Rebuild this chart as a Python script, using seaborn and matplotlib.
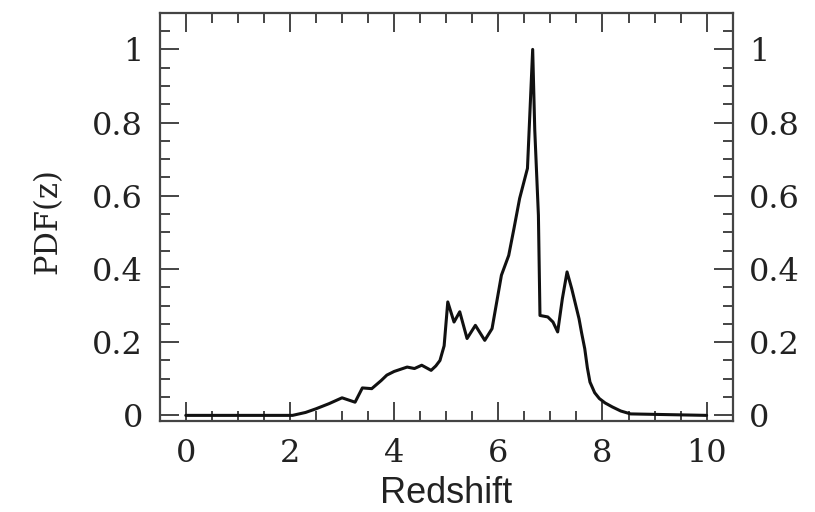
import matplotlib
matplotlib.use("Agg")
import matplotlib.pyplot as plt
from matplotlib.ticker import MultipleLocator
import seaborn as sns
import pandas as pd

# redshift PDF
redshift = [0.0, 2.05, 2.3, 2.5, 2.75, 3.0, 3.25, 3.39, 3.57, 3.75, 3.86, 4.0,
            4.25, 4.39, 4.53, 4.71, 4.8, 4.88, 4.96, 5.03, 5.15, 5.26, 5.4,
            5.56, 5.74, 5.88, 5.97, 6.06, 6.2, 6.3, 6.41, 6.56, 6.66, 6.7,
            6.77, 6.8, 6.95, 7.05, 7.14, 7.23, 7.32, 7.41, 7.55, 7.6, 7.66,
            7.71, 7.76, 7.85, 7.94, 8.05, 8.19, 8.35, 8.54, 10.0]
pdf = [0.0, 0.0, 0.008, 0.018, 0.032, 0.048, 0.036, 0.075, 0.073, 0.095, 0.11,
       0.12, 0.132, 0.128, 0.137, 0.123, 0.135, 0.15, 0.19, 0.31, 0.255,
       0.283, 0.21, 0.246, 0.205, 0.237, 0.31, 0.383, 0.437, 0.51, 0.593,
       0.675, 1.0, 0.78, 0.547, 0.273, 0.269, 0.255, 0.228, 0.319, 0.392,
       0.346, 0.264, 0.225, 0.182, 0.13, 0.091, 0.062, 0.046, 0.034, 0.023,
       0.012, 0.004, 0.0]

df = pd.DataFrame({"z": redshift, "pdf": pdf})

sns.set_style("ticks")
serif = ["DejaVu Serif"]

fig = plt.figure(figsize=(8.15, 5.12), dpi=100)
ax = fig.add_axes([0.196, 0.178, 0.703, 0.797])

sns.lineplot(data=df, x="z", y="pdf", ax=ax, color="#111111", linewidth=2.2)

ax.set_xlim(-0.5, 10.5)
ax.set_ylim(-0.015, 1.1)
ax.xaxis.set_major_locator(MultipleLocator(2))
ax.xaxis.set_minor_locator(MultipleLocator(0.5))
ax.yaxis.set_major_locator(MultipleLocator(0.2))
ax.yaxis.set_minor_locator(MultipleLocator(0.05))

ax.tick_params(which="both", direction="in", top=True, right=True,
               labelright=True, color="#444444", width=1.4, pad=12)
ax.tick_params(which="major", length=14)
ax.tick_params(which="minor", length=7)

ax.set_xticks([0, 2, 4, 6, 8, 10])
ax.set_xticklabels(["0", "2", "4", "6", "8", "10"])
ax.set_yticks([0, 0.2, 0.4, 0.6, 0.8, 1.0])
ax.set_yticklabels(["0", "0.2", "0.4", "0.6", "0.8", "1"])
for t in ax.xaxis.get_major_ticks() + ax.yaxis.get_major_ticks():
    for lab in (t.label1, t.label2):
        lab.set_fontfamily(serif)
        lab.set_fontsize(23)
        lab.set_color("#222222")

for s in ax.spines.values():
    s.set_color("#444444")
    s.set_linewidth(1.6)

ax.set_xlabel("Redshift", fontsize=26, family="Liberation Sans", color="#222222")
ax.set_ylabel("PDF(z)", fontsize=22, family=serif, color="#222222")
ax.xaxis.set_label_coords(0.5, -0.135)
ax.yaxis.set_label_coords(-0.168, 0.49)

fig.savefig("out.png", dpi=100)
